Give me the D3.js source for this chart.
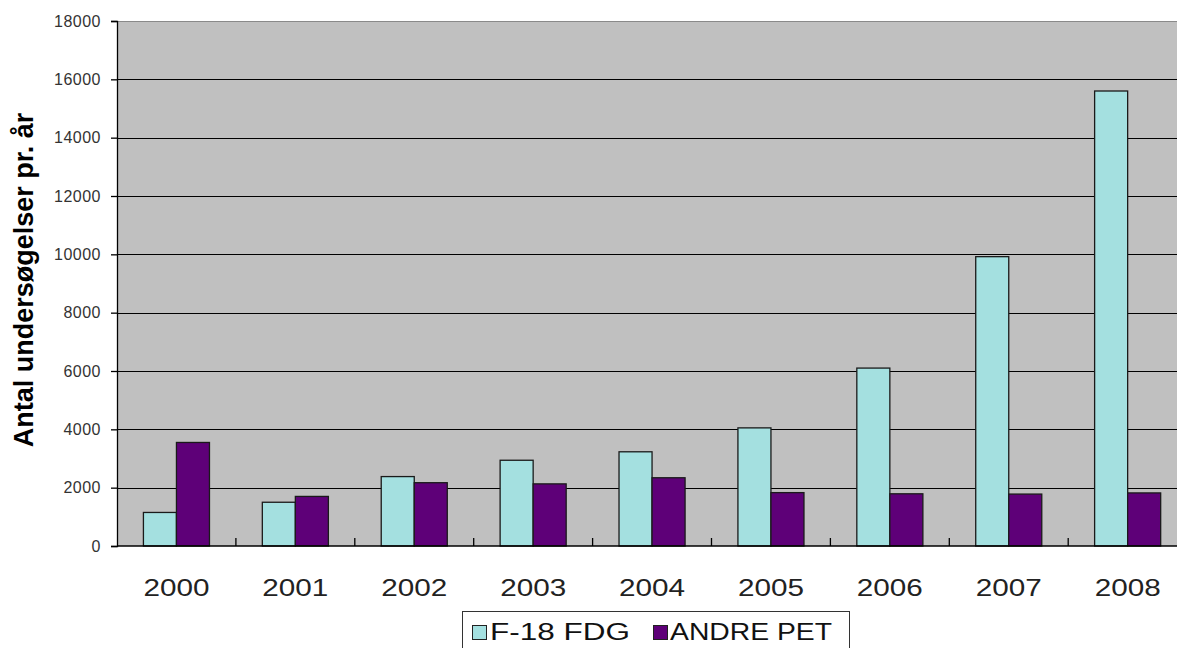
<!DOCTYPE html>
<html>
<head>
<meta charset="utf-8">
<script src="https://cdn.jsdelivr.net/npm/d3@7"></script>
<style>
  html, body { margin: 0; padding: 0; background: #fff; }
  svg { display: block; font-family: Arial, "Liberation Sans", sans-serif; }
</style>
</head>
<body>
<svg id="chart" width="1177" height="648"></svg>
<script>
// Annual PET examinations, by tracer
const years = ["2000", "2001", "2002", "2003", "2004", "2005", "2006", "2007", "2008"];
const seriesNames = ["F-18 FDG", "ANDRE PET"];
const fdgValues = [1150, 1500, 2380, 2940, 3230, 4050, 6100, 9920, 15600];
const andreValues = [3550, 1700, 2170, 2130, 2340, 1830, 1790, 1780, 1820];
const yTicks = [0, 2000, 4000, 6000, 8000, 10000, 12000, 14000, 16000, 18000];
const seriesColors = ["#a4e0e0", "#5e0078"];
const yTitle = "Antal undersøgelser pr. år";

const svg = d3.select("#chart");

// plot area (runs past the right edge of the canvas)
const plotLeft = 117, plotTop = 21, plotBottom = 546;
const step = 118.9;
const plotRight = plotLeft + step * years.length;

const x = d3.scaleBand().domain(years).range([plotLeft, plotRight]).padding(0);
const xs = d3.scaleBand().domain(seriesNames).range([0, x.bandwidth()])
  .paddingInner(0).paddingOuter(0.8);
const y = d3.scaleLinear().domain([0, 18000]).range([plotBottom, plotTop]);

// plot background
svg.append("rect")
  .attr("x", plotLeft).attr("y", plotTop)
  .attr("width", plotRight - plotLeft).attr("height", plotBottom - plotTop)
  .attr("fill", "#c0c0c0");

// top border
svg.append("line")
  .attr("x1", plotLeft).attr("x2", plotRight)
  .attr("y1", plotTop + 0.5).attr("y2", plotTop + 0.5)
  .attr("stroke", "#8a8a8a").attr("stroke-width", 1);

// horizontal gridlines
svg.append("g").selectAll("line")
  .data(yTicks.filter(t => t > 0 && t < 18000))
  .join("line")
  .attr("x1", plotLeft).attr("x2", plotRight)
  .attr("y1", d => Math.round(y(d)) + 0.5).attr("y2", d => Math.round(y(d)) + 0.5)
  .attr("stroke", "#000").attr("stroke-width", 1);

// bars
const rows = years.map((yr, i) => ({ year: yr, values: [fdgValues[i], andreValues[i]] }));
const groups = svg.append("g").selectAll("g")
  .data(rows).join("g")
  .attr("transform", d => `translate(${x(d.year)},0)`);
groups.selectAll("rect")
  .data(d => d.values.map((v, k) => ({ name: seriesNames[k], value: v, k })))
  .join("rect")
  .attr("x", d => xs(d.name))
  .attr("width", xs.bandwidth())
  .attr("y", d => y(d.value))
  .attr("height", d => plotBottom - y(d.value))
  .attr("fill", d => seriesColors[d.k])
  .attr("stroke", "#1a1a1a").attr("stroke-width", 1.3);

// y axis
const yAxis = d3.axisLeft(y).tickValues(yTicks).tickSize(6).tickPadding(10)
  .tickFormat(d3.format("d"));
const yg = svg.append("g").attr("transform", `translate(${plotLeft},0)`).call(yAxis);
yg.select(".domain").attr("stroke", "#000").attr("stroke-width", 1.3);
yg.selectAll(".tick line").attr("stroke", "#000").attr("stroke-width", 1.3);
yg.selectAll(".tick text")
  .attr("font-size", 16).attr("fill", "#333")
  .attr("font-family", "Arial, 'Liberation Sans', sans-serif")
  .attr("letter-spacing", 0.5);

// x axis line with category boundary ticks pointing inward
svg.append("line")
  .attr("x1", plotLeft).attr("x2", plotRight).attr("y1", plotBottom).attr("y2", plotBottom)
  .attr("stroke", "#000").attr("stroke-width", 1.3);
svg.append("g").selectAll("line")
  .data(years.slice(1))
  .join("line")
  .attr("x1", d => x(d)).attr("x2", d => x(d))
  .attr("y1", plotBottom).attr("y2", plotBottom - 8)
  .attr("stroke", "#000").attr("stroke-width", 1.3);

// year labels
svg.append("g").selectAll("text")
  .data(years).join("text")
  .attr("x", d => x(d) + x.bandwidth() / 2)
  .attr("y", 596)
  .attr("text-anchor", "middle")
  .attr("font-size", 23)
  .attr("fill", "#222")
  .attr("textLength", 66)
  .attr("lengthAdjust", "spacingAndGlyphs")
  .text(d => d);

// y axis title
svg.append("text")
  .attr("transform", "translate(33,280) rotate(-90)")
  .attr("text-anchor", "middle")
  .attr("font-size", 27)
  .attr("font-weight", "bold")
  .attr("fill", "#000")
  .text(yTitle);

// legend
const legend = svg.append("g");
legend.append("rect")
  .attr("x", 462.5).attr("y", 611.5).attr("width", 387).attr("height", 50)
  .attr("fill", "#fff").attr("stroke", "#333").attr("stroke-width", 1);
const legendItems = [
  { name: seriesNames[0], color: seriesColors[0], sx: 472.5, tx: 490, tw: 140 },
  { name: seriesNames[1], color: seriesColors[1], sx: 653.5, tx: 670, tw: 162 }
];
legendItems.forEach(it => {
  legend.append("rect")
    .attr("x", it.sx).attr("y", 625.5).attr("width", 14).attr("height", 14)
    .attr("fill", it.color).attr("stroke", "#222").attr("stroke-width", 1);
  legend.append("text")
    .attr("x", it.tx).attr("y", 640)
    .attr("font-size", 23).attr("fill", "#111")
    .attr("textLength", it.tw).attr("lengthAdjust", "spacingAndGlyphs")
    .text(it.name);
});
</script>
</body>
</html>
